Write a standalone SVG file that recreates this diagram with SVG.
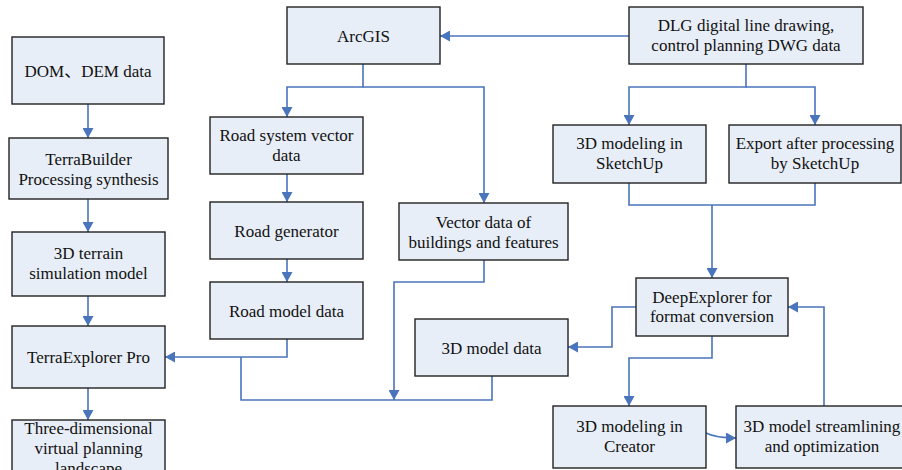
<svg xmlns="http://www.w3.org/2000/svg" width="902" height="470" viewBox="0 0 902 470">
<defs>
<marker id="ah" markerUnits="userSpaceOnUse" markerWidth="11" markerHeight="11" refX="10" refY="5.5" orient="auto">
<path d="M0,0 L10,5.5 L0,11 z" fill="#4A74BC"/>
</marker>
<style>
.box{fill:#E8EEF7;stroke:#222;stroke-width:1.4}
.c{fill:none;stroke:#4A74BC;stroke-width:1.6}
.a{marker-end:url(#ah)}
</style>
</defs>
<rect width="902" height="470" fill="#fff"/>
<g id="connectors">
<path class="c a" d="M88,104 V138"/>
<path class="c a" d="M88,199 V232"/>
<path class="c a" d="M88,296 V326"/>
<path class="c a" d="M88,388 V420"/>
<path class="c a" d="M363,64 V87 H287 V117"/>
<path class="c a" d="M363,87 H484 V203"/>
<path class="c a" d="M287,174 V202"/>
<path class="c a" d="M287,259 V282"/>
<path class="c a" d="M287,339 V357 H165"/>
<path class="c" d="M241,357 V400 H492 V376"/>
<path class="c a" d="M484,260 V282 H394 V400"/>
<path class="c a" d="M629,36 H440"/>
<path class="c a" d="M746,64 V87 H629 V125"/>
<path class="c a" d="M746,87 H815 V125"/>
<path class="c" d="M629,183 V205 H815 V183"/>
<path class="c a" d="M712,205 V278"/>
<path class="c a" d="M636,307 H612 V347 H568"/>
<path class="c a" d="M712,336 V358 H629 V406"/>
<path class="c a" d="M706,433 Q716,438 736,438"/>
<path class="c a" d="M824,406 V307 H788"/>
</g>
<g font-family="'Liberation Serif', 'Times New Roman', 'Noto Sans CJK SC', serif" font-size="17" fill="#111" text-anchor="middle">
<g id="n-dom"><rect class="box" x="12" y="37" width="152" height="67"/><text x="88" y="77">DOM、DEM data</text></g>
<g id="n-terrabuilder"><rect class="box" x="9" y="138" width="159" height="61"/><text x="88.5" y="164.5">TerraBuilder</text><text x="88.5" y="184.5">Processing synthesis</text></g>
<g id="n-terrain"><rect class="box" x="12" y="232" width="153" height="64"/><text x="88.5" y="259">3D terrain</text><text x="88.5" y="279">simulation model</text></g>
<g id="n-terraexplorer"><rect class="box" x="12" y="326" width="153" height="62"/><text x="88.5" y="363">TerraExplorer Pro</text></g>
<g id="n-landscape"><rect class="box" x="12" y="420" width="153" height="60"/><text x="88.5" y="434">Three-dimensional</text><text x="88.5" y="454">virtual planning</text><text x="88.5" y="474">landscape</text></g>
<g id="n-arcgis"><rect class="box" x="287" y="7" width="153" height="57"/><text x="363.5" y="41.5">ArcGIS</text></g>
<g id="n-roadsys"><rect class="box" x="210" y="117" width="153" height="57"/><text x="286.5" y="141">Road system vector</text><text x="286.5" y="161">data</text></g>
<g id="n-roadgen"><rect class="box" x="210" y="202" width="153" height="57"/><text x="286.5" y="236.5">Road generator</text></g>
<g id="n-roadmodel"><rect class="box" x="210" y="282" width="153" height="57"/><text x="286.5" y="316.5">Road model data</text></g>
<g id="n-vector"><rect class="box" x="399" y="203" width="169" height="57"/><text x="483.5" y="227.5">Vector data of</text><text x="483.5" y="247.5">buildings and features</text></g>
<g id="n-model3d"><rect class="box" x="415" y="319" width="153" height="57"/><text x="491.5" y="353.5">3D model data</text></g>
<g id="n-dlg"><rect class="box" x="629" y="7" width="234" height="57"/><text x="746" y="30.5">DLG digital line drawing,</text><text x="746" y="50.5">control planning DWG data</text></g>
<g id="n-sketchup"><rect class="box" x="553" y="125" width="153" height="58"/><text x="629.5" y="149">3D modeling in</text><text x="629.5" y="169">SketchUp</text></g>
<g id="n-export"><rect class="box" x="729" y="125" width="172" height="58"/><text x="815" y="149">Export after processing</text><text x="815" y="169">by SketchUp</text></g>
<g id="n-deep"><rect class="box" x="636" y="278" width="152" height="58"/><text x="712" y="303">DeepExplorer for</text><text x="712" y="322">format conversion</text></g>
<g id="n-creator"><rect class="box" x="553" y="406" width="153" height="62"/><text x="629.5" y="432">3D modeling in</text><text x="629.5" y="452">Creator</text></g>
<g id="n-stream"><rect class="box" x="736" y="406" width="172" height="62"/><text x="822" y="432">3D model streamlining</text><text x="822" y="452">and optimization</text></g>
</g>
</svg>
